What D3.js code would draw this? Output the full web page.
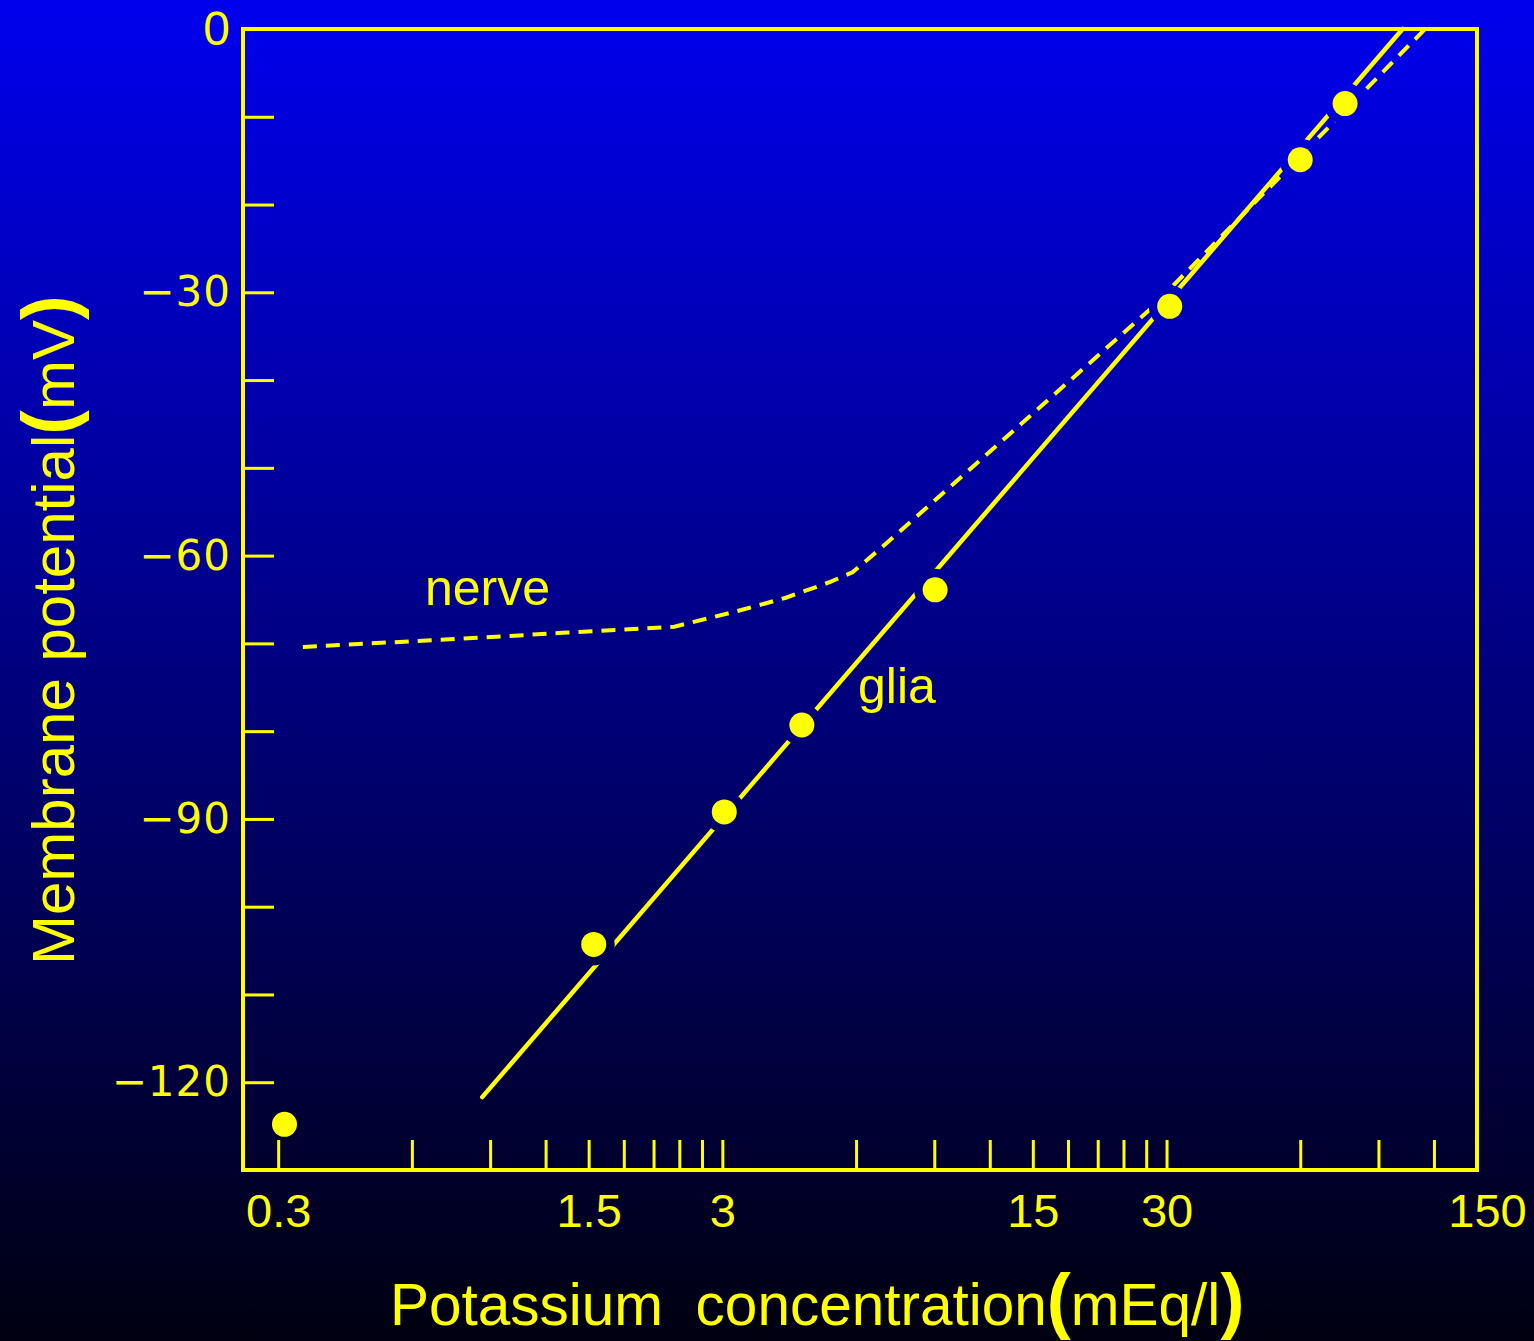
<!DOCTYPE html>
<html>
<head>
<meta charset="utf-8">
<script src="https://d3js.org/d3.v7.min.js"></script>
<style>
  body { margin: 0; background: #000; }
  svg { display: block; }
  text { fill: #ffff00; font-family: "Liberation Sans", Arial, sans-serif; }
</style>
</head>
<body>
<svg></svg>
<script>
const svgWidth = 1534;
const svgHeight = 1341;
const yellow = "#ffff00";

// glia: measured points (K+ in mEq/l, potential in mV)
const gliaK = [0.31, 1.54, 3.03, 4.53, 9.04, 30.5, 60, 75.7];
const gliaMV = [-124.8, -104.3, -89.2, -79.3, -63.9, -31.6, -14.9, -8.5];

// glia: straight line drawn through the points (its two ends)
const gliaLineK = [0.864, 102];
const gliaLineMV = [-121.7, 0];

// nerve: dashed curve
const nerveK = [0.341, 0.824, 1.31, 2.34, 3.31, 4.17, 5.25, 5.89, 6.7, 8.8, 27.2, 114.6];
const nerveMV = [-70.4, -69.4, -68.8, -68.1, -66.2, -64.8, -63.0, -61.9, -59.5, -54.2, -32.2, 0];

// axis ticks
const xTicks = [0.3, 0.6, 0.9, 1.2, 1.5, 1.8, 2.1, 2.4, 2.7, 3, 6, 9, 12, 15, 18, 21, 24, 27, 30, 60, 90, 120, 150];
const xLabelValues = [0.3, 1.5, 3, 15, 30, 150];
const xLabelText = ["0.3", "1.5", "3", "15", "30", "150"];
const yTicks = [0, -10, -20, -30, -40, -50, -60, -70, -80, -90, -100, -110, -120];
const yLabelValues = [0, -30, -60, -90, -120];
const yLabelText = ["0", "\u221230", "\u221260", "\u221290", "\u2212120"];

const svg = d3.select("svg")
    .attr("width", svgWidth)
    .attr("height", svgHeight);

const defs = svg.append("defs");

// blue background fading to black
const grad = defs.append("linearGradient")
    .attr("id", "bg")
    .attr("x1", 0).attr("y1", 0).attr("x2", 0).attr("y2", 1);
grad.append("stop").attr("offset", "0%").attr("stop-color", "#0000ee");
grad.append("stop").attr("offset", "100%").attr("stop-color", "#000010");

svg.append("rect")
    .attr("width", svgWidth)
    .attr("height", svgHeight)
    .attr("fill", "url(#bg)");

// Scales
const x = d3.scaleLog().domain([0.25, 150]).range([243, 1477]);
const y = d3.scaleLinear().domain([-130, 0]).range([1170, 29]);

const gliaPts = d3.zip(gliaK, gliaMV);

// mask leaves a small gap in the lines around each dot
const mask = defs.append("mask").attr("id", "gaps");
mask.append("rect")
    .attr("width", svgWidth)
    .attr("height", svgHeight)
    .attr("fill", "white");
mask.selectAll("circle")
    .data(gliaPts)
    .enter()
    .append("circle")
    .attr("cx", d => x(d[0]))
    .attr("cy", d => y(d[1]))
    .attr("r", 21)
    .attr("fill", "black");

// Frame
svg.append("rect")
    .attr("x", x.range()[0])
    .attr("y", y.range()[1])
    .attr("width", x.range()[1] - x.range()[0])
    .attr("height", y.range()[0] - y.range()[1])
    .attr("fill", "none")
    .attr("stroke", yellow)
    .attr("stroke-width", 4);

// x-axis (ticks pointing inward)
const xAxis = svg.append("g")
    .attr("transform", `translate(0,${y.range()[0]})`)
    .call(d3.axisBottom(x)
        .tickValues(xTicks)
        .tickSize(-30)
        .tickPadding(24)
        .tickFormat(d => {
            const i = xLabelValues.indexOf(d);
            return i < 0 ? "" : xLabelText[i];
        }));
xAxis.select(".domain").remove();
xAxis.selectAll(".tick line").attr("stroke", yellow).attr("stroke-width", 3);
xAxis.selectAll(".tick text")
    .attr("fill", yellow)
    .attr("dx", d => d === 150 ? 10 : 0)
    .style("font-size", "47px")
    .style("font-family", "'Liberation Sans', Arial, sans-serif");

// y-axis
const yAxis = svg.append("g")
    .attr("transform", `translate(${x.range()[0]},0)`)
    .call(d3.axisLeft(y)
        .tickValues(yTicks)
        .tickSize(-31)
        .tickPadding(12)
        .tickFormat(d => {
            const i = yLabelValues.indexOf(d);
            return i < 0 ? "" : yLabelText[i];
        }));
yAxis.select(".domain").remove();
yAxis.selectAll(".tick line").attr("stroke", yellow).attr("stroke-width", 3);
yAxis.selectAll(".tick text")
    .attr("fill", yellow)
    .style("font-size", d => d === 0 ? "48px" : "42px")
    .style("letter-spacing", "1px")
    .style("font-family", d => d === 0 ? "'Liberation Sans', sans-serif" : "'DejaVu Sans', sans-serif");

const line = d3.line()
    .x(d => x(d[0]))
    .y(d => y(d[1]));

const plot = svg.append("g").attr("mask", "url(#gaps)");

// nerve (dashed)
plot.append("path")
    .datum(d3.zip(nerveK, nerveMV))
    .attr("d", line)
    .attr("fill", "none")
    .attr("stroke", yellow)
    .attr("stroke-width", 4)
    .attr("stroke-dasharray", "14,9");

// glia line (solid)
plot.append("path")
    .datum(d3.zip(gliaLineK, gliaLineMV))
    .attr("d", line)
    .attr("fill", "none")
    .attr("stroke", yellow)
    .attr("stroke-width", 4.5)
    .attr("stroke-linecap", "round");

// glia dots
svg.selectAll(".dot")
    .data(gliaPts)
    .enter()
    .append("circle")
    .attr("class", "dot")
    .attr("cx", d => x(d[0]))
    .attr("cy", d => y(d[1]))
    .attr("r", 12.5)
    .attr("fill", yellow);

// curve labels
svg.append("text")
    .attr("x", 425)
    .attr("y", 605)
    .style("font-size", "50px")
    .text("nerve");

svg.append("text")
    .attr("x", 858)
    .attr("y", 703)
    .style("font-size", "50px")
    .text("glia");

// x-axis label
const xLabel = svg.append("text")
    .attr("x", 390)
    .attr("y", 1325)
    .style("font-size", "58.5px")
    .style("white-space", "pre");
xLabel.append("tspan").text("Potassium  concentration");
xLabel.append("tspan").style("font-size", "72px").style("font-weight", "bold").text("(");
xLabel.append("tspan").text("mEq/l");
xLabel.append("tspan").style("font-size", "72px").style("font-weight", "bold").text(")");

// y-axis label
const yLabel = svg.append("text")
    .attr("transform", "translate(74,965) rotate(-90)")
    .style("font-size", "60px");
yLabel.append("tspan").text("Membrane potential");
yLabel.append("tspan").style("font-size", "74px").style("font-weight", "bold").text("(");
yLabel.append("tspan").text("mV");
yLabel.append("tspan").style("font-size", "74px").style("font-weight", "bold").text(")");
</script>
</body>
</html>
